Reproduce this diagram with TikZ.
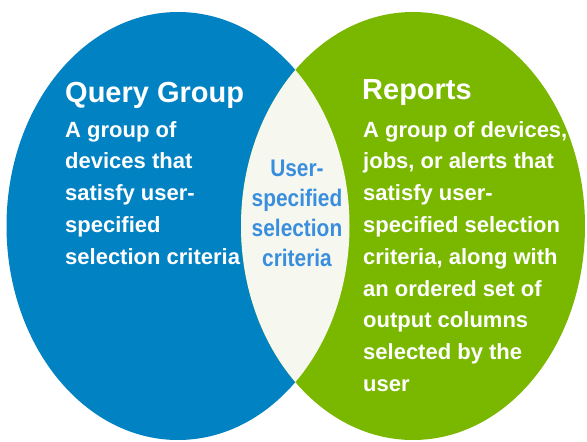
\documentclass[tikz,border=0pt]{standalone}
\usepackage{fontspec}
\setmainfont{Liberation Sans}
\newfontfamily\lensfont[FakeStretch=0.87]{Liberation Sans}
\definecolor{qblue}{RGB}{0,130,195}
\definecolor{rgreen}{RGB}{122,184,0}
\definecolor{lensfill}{RGB}{246,248,240}
\definecolor{lenstext}{RGB}{58,142,222}
\tikzset{
  titletext/.style={anchor=north west,inner sep=0pt,text=white,font=\bfseries\fontsize{29}{32}\selectfont},
  bodytext/.style={anchor=north west,inner sep=0pt,text=white,align=left,font=\bfseries\fontsize{22}{31.8}\selectfont},
  lenslabel/.style={anchor=north,inner sep=0pt,text=lenstext,align=center,font=\lensfont\bfseries\fontsize{24}{30}\selectfont}
}
\begin{document}
\begin{tikzpicture}[x=1pt,y=-1pt]
\useasboundingbox (0,0) rectangle (587,442);
\fill[white] (0,0) rectangle (587,442);
\fill[qblue] (178,226) ellipse [x radius=171.5, y radius=214];
\fill[rgreen] (413,226) ellipse [x radius=172, y radius=214];
\begin{scope}
  \clip (178,226) ellipse [x radius=171.5, y radius=214];
  \fill[lensfill] (413,226) ellipse [x radius=172, y radius=214];
\end{scope}
\node[titletext] (qtitle) at (65,82) {Query Group};
\node[bodytext] (qbody) at (65,121) {A group of\\devices that\\satisfy user-\\specified\\selection criteria};
\node[titletext] (rtitle) at (362,79) {Reports};
\node[bodytext] (rbody) at (363,121) {A group of devices,\\jobs, or alerts that\\satisfy user-\\specified selection\\criteria, along with\\an ordered set of\\output columns\\selected by the\\user};
\node[lenslabel] (lens) at (297,160) {User-\\specified\\selection\\criteria};
\end{tikzpicture}
\end{document}
